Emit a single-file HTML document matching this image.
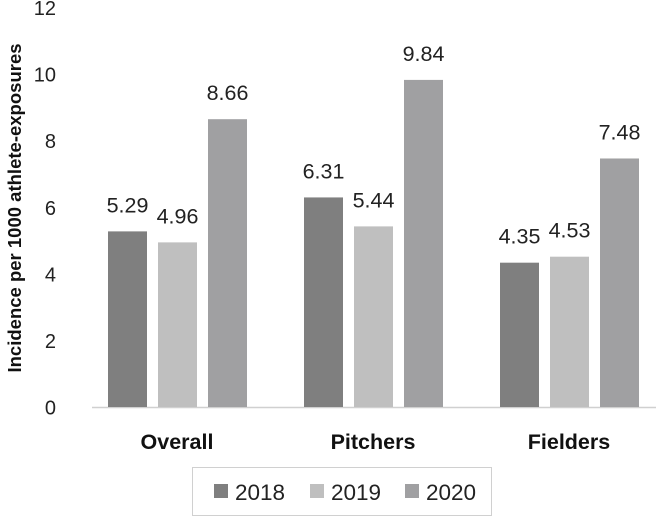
<!DOCTYPE html>
<html><head><style>
body{margin:0;background:#fff;}
svg{display:block;font-family:"Liberation Sans",sans-serif;}
</style></head><body>
<svg id="c" width="668" height="517">
<text transform="translate(21,208) rotate(-90)" text-anchor="middle" font-weight="bold" font-size="18.5" fill="#111">Incidence per 1000 athlete-exposures</text>
<line x1="92" x2="656" y1="407.5" y2="407.5" stroke="#d0d0d0" stroke-width="1.5"/>
<rect x="192.5" y="467.5" width="299" height="48" fill="#fff" stroke="#d0d0d0"/>
</svg>
<script>
const categories=["Overall","Pitchers","Fielders"];
const years=["2018","2019","2020"];
const v2018=[5.29,6.31,4.35];
const v2019=[4.96,5.44,4.53];
const v2020=[8.66,9.84,7.48];
const yTicks=[0,2,4,6,8,10,12];
const colors=["#7f7f7f","#bfbfbf","#a0a0a2"];
const svg=document.getElementById('c');
const NS='http://www.w3.org/2000/svg';
const y=v=>407.5-v*(399.5/12);
const groupX=i=>108+i*196;
function mk(t,a){const e=document.createElementNS(NS,t);for(const k in a)e.setAttribute(k,a[k]);svg.appendChild(e);return e;}
yTicks.forEach(t=>{
  const e=mk('text',{x:56,y:y(t)+7,'text-anchor':'end','font-size':20,fill:'#222'});
  e.textContent=t;
  
  
});
const series=[v2018,v2019,v2020];
categories.forEach((c,i)=>{
  series.forEach((s,j)=>{
    const x=groupX(i)+j*50;
    const r=mk('rect',{x:x,y:y(s[i]),width:39,height:407-y(s[i]),fill:colors[j]});
    
    
    const t=mk('text',{x:x+19.5,y:y(s[i])-19,'text-anchor':'middle','font-size':21.5,fill:'#222'});
    t.textContent=s[i].toFixed(2);
    
    
  });
  const l=mk('text',{x:groupX(i)+69,y:449,'text-anchor':'middle','font-size':21.5,'font-weight':'bold',fill:'#111'});
  l.textContent=c;
  
  
});
const lx=[214,310,405];
years.forEach((yr,j)=>{
  const s=mk('rect',{x:lx[j],y:484,width:14,height:14,fill:colors[j]});
  
  
  const t=mk('text',{x:lx[j]+21,y:500,'font-size':22.5,fill:'#222'});
  t.textContent=yr;
  
  
});
</script>
</body></html>
